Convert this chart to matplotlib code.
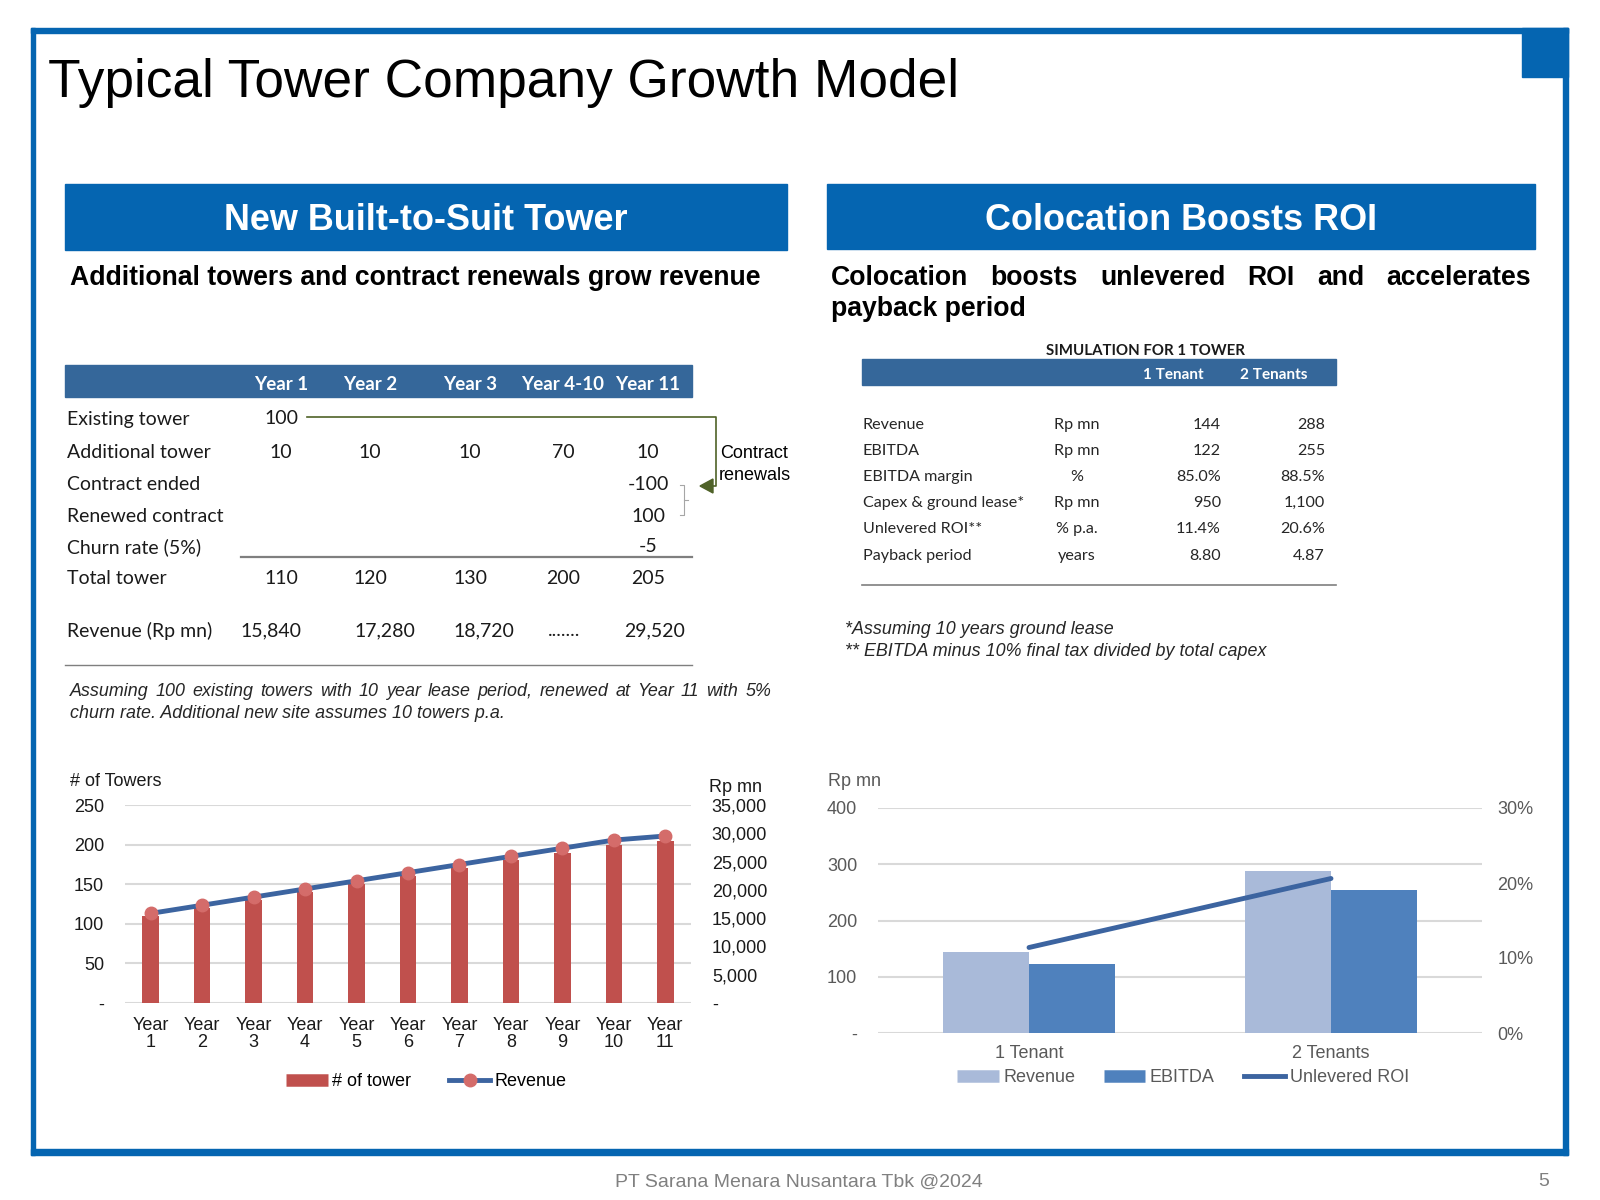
import matplotlib
matplotlib.use('Agg')
import matplotlib.pyplot as plt
from matplotlib.patches import Rectangle, Polygon
from matplotlib.lines import Line2D

# ---- chart data ----
year_labels = ['Year\n1', 'Year\n2', 'Year\n3', 'Year\n4', 'Year\n5', 'Year\n6',
               'Year\n7', 'Year\n8', 'Year\n9', 'Year\n10', 'Year\n11']
towers = [110, 120, 130, 140, 150, 160, 170, 180, 190, 200, 205]
revenue = [15840, 17280, 18720, 20160, 21600, 23040, 24480, 25920, 27360, 28800, 29520]

tenant_labels = ['1 Tenant', '2 Tenants']
sim_revenue = [144, 288]
sim_ebitda = [122, 255]
sim_roi = [11.4, 20.6]

# ---- table data ----
tbl_cols = ['Year 1', 'Year 2', 'Year 3', 'Year 4-10', 'Year 11']
tbl_rows = [
    ('Existing tower', ['100', '', '', '', '']),
    ('Additional tower', ['10', '10', '10', '70', '10']),
    ('Contract ended', ['', '', '', '', '-100']),
    ('Renewed contract', ['', '', '', '', '100']),
    ('Churn rate (5%)', ['', '', '', '', '-5']),
    ('Total tower', ['110', '120', '130', '200', '205']),
]
rev_row = ('Revenue (Rp mn)', ['15,840', '17,280', '18,720', '.......', '29,520'])

sim_cols = ['1 Tenant', '2 Tenants']
sim_rows = [
    ('Revenue', 'Rp mn', '144', '288'),
    ('EBITDA', 'Rp mn', '122', '255'),
    ('EBITDA margin', '%', '85.0%', '88.5%'),
    ('Capex & ground lease*', 'Rp mn', '950', '1,100'),
    ('Unlevered ROI**', '% p.a.', '11.4%', '20.6%'),
    ('Payback period', 'years', '8.80', '4.87'),
]

# ---- style ----
W, H = 1600, 1200
BLUE = '#0565B1'
HEAD = '#35679A'
BAR_RED = '#C0504D'
LINE_BLUE = '#3C64A0'
MARK = '#D46C6A'
REV_LIGHT = '#A9BAD9'
EBITDA_BLUE = '#4F81BD'
GRID = '#D9D9D9'
ARIAL = ['Liberation Sans', 'DejaVu Sans']
CALIBRI = ['Lato', 'DejaVu Sans']
CH = 13  # chart text size

fig = plt.figure(figsize=(16, 12), dpi=100)
bg = fig.add_axes([0, 0, 1, 1])
bg.set_xlim(0, W)
bg.set_ylim(H, 0)
bg.axis('off')


def px_rect(x0, y0, x1, y1):
    return [x0 / W, 1 - y1 / H, (x1 - x0) / W, (y1 - y0) / H]


def justify(words, x0, x1, y, **kw):
    ts = [bg.text(x0, y, w, ha='left', va='center', **kw) for w in words]
    r = fig.canvas.get_renderer()
    ws = [t.get_window_extent(r).width for t in ts]
    gap = (x1 - x0 - sum(ws)) / (len(ws) - 1)
    x = x0
    for t, w in zip(ts, ws):
        t.set_x(x)
        x += w + gap


# frame
bg.add_patch(Rectangle((31, 28), 1537, 5, color=BLUE))
bg.add_patch(Rectangle((31, 28), 4, 1127, color=BLUE))
bg.add_patch(Rectangle((1563, 28), 5, 1127, color=BLUE))
bg.add_patch(Rectangle((31, 1149), 1537, 6, color=BLUE))
bg.add_patch(Rectangle((1522, 28), 46, 49, color=BLUE))

bg.text(48, 83, 'Typical Tower Company Growth Model', fontsize=38.3, family=ARIAL,
        ha='left', va='center', color='black')

# section headers
bg.add_patch(Rectangle((65, 184), 722, 66, color=BLUE))
bg.add_patch(Rectangle((827, 184), 708, 65, color=BLUE))
bg.text(426, 221, 'New Built-to-Suit Tower', fontsize=25.9, weight='bold', family=ARIAL,
        color='white', ha='center', va='center')
bg.text(1181, 221, 'Colocation Boosts ROI', fontsize=25.9, weight='bold', family=ARIAL,
        color='white', ha='center', va='center')

bg.text(70, 278, 'Additional towers and contract renewals grow revenue', fontsize=19.2,
        weight='bold', family=ARIAL, ha='left', va='center')
justify(['Colocation', 'boosts', 'unlevered', 'ROI', 'and', 'accelerates'], 831, 1531, 278,
        fontsize=19.2, weight='bold', family=ARIAL)
bg.text(831, 309, 'payback period', fontsize=19.2, weight='bold', family=ARIAL,
        ha='left', va='center')

# ---- left table ----
col_x = [281, 370, 470, 563, 648]
rev_x = [271, 385, 484, 564, 655]
row_y = [419, 452, 484, 516, 547, 579]
bg.add_patch(Rectangle((65, 365), 627, 32, color=HEAD))
for cx, c in zip(col_x, tbl_cols):
    bg.text(cx, 384, c, fontsize=13.5, weight='bold', family=CALIBRI, color='white',
            ha='center', va='center')
for y, (lab, vals) in zip(row_y, tbl_rows):
    bg.text(67, y, lab, fontsize=14, family=CALIBRI, ha='left', va='center', color='#1a1a1a')
    for cx, v in zip(col_x, vals):
        bg.text(cx, y, v, fontsize=14, family=CALIBRI, ha='center', va='center', color='#1a1a1a')
bg.text(67, 631, rev_row[0], fontsize=14, family=CALIBRI, ha='left', va='center', color='#1a1a1a')
for cx, v in zip(rev_x, rev_row[1]):
    bg.text(cx, 631, v, fontsize=14, family=CALIBRI, ha='center', va='center', color='#1a1a1a')
bg.plot([241, 692], [557, 557], color='#7F7F7F', lw=1.6)
bg.plot([65, 692], [665, 665], color='#7F7F7F', lw=1.0)

# contract renewal arrow
bg.plot([307, 716, 716, 710], [417, 417, 486, 486], color='#4F6228', lw=1.2)
bg.add_patch(Polygon([[700, 486], [713, 479], [713, 493]], closed=True, color='#4F6228'))
bg.plot([680, 684, 684, 680], [485, 485, 515, 515], color='#A6A6A6', lw=0.8)
bg.plot([684, 688], [500, 500], color='#A6A6A6', lw=0.8)
bg.text(720, 453, 'Contract', fontsize=13, family=ARIAL, ha='left', va='center')
bg.text(719, 475, 'renewals', fontsize=13, family=ARIAL, ha='left', va='center')

justify('Assuming 100 existing towers with 10 year lease period, renewed at Year 11 with 5%'.split(),
        70, 771, 692, fontsize=12.9, style='italic', family=ARIAL, color='#262626')
bg.text(70, 714, 'churn rate. Additional new site assumes 10 towers p.a.', fontsize=12.9,
        style='italic', family=ARIAL, color='#262626', ha='left', va='center')

# ---- right table ----
sim_y = [425, 451, 477, 503, 529, 556]
bg.text(1145, 351, 'SIMULATION FOR 1 TOWER', fontsize=10.8, weight='bold', family=CALIBRI,
        ha='center', va='center', color='#1a1a1a')
bg.add_patch(Rectangle((862, 359), 474, 26, color=HEAD))
bg.text(1173, 375, sim_cols[0], fontsize=11, weight='bold', family=CALIBRI, color='white',
        ha='center', va='center')
bg.text(1274, 375, sim_cols[1], fontsize=11, weight='bold', family=CALIBRI, color='white',
        ha='center', va='center')
for y, (lab, unit, v1, v2) in zip(sim_y, sim_rows):
    bg.text(863, y, lab, fontsize=11.6, family=CALIBRI, ha='left', va='center', color='#262626')
    bg.text(1077, y, unit, fontsize=11.6, family=CALIBRI, ha='center', va='center', color='#262626')
    bg.text(1221, y, v1, fontsize=11.6, family=CALIBRI, ha='right', va='center', color='#262626')
    bg.text(1325, y, v2, fontsize=11.6, family=CALIBRI, ha='right', va='center', color='#262626')
bg.plot([862, 1336], [585, 585], color='#7F7F7F', lw=1.2)

bg.text(845, 630, '*Assuming 10 years ground lease', fontsize=12.9, style='italic',
        family=ARIAL, ha='left', va='center', color='#262626')
bg.text(845, 651, '** EBITDA minus 10% final tax divided by total capex', fontsize=12.9,
        style='italic', family=ARIAL, ha='left', va='center', color='#262626')

# ---- left chart ----
ax1 = fig.add_axes(px_rect(125, 805, 691, 1003))
ax1.set_facecolor('none')
x = list(range(len(towers)))
ax1.bar(x, towers, width=0.32, color=BAR_RED, zorder=2)
ax1.set_xlim(-0.5, 10.5)
ax1.set_ylim(0, 250)
ax1.set_yticks([0, 50, 100, 150, 200, 250])
ax1.set_yticklabels(['-', '50', '100', '150', '200', '250'])
ax1.set_xticks(x)
ax1.set_xticklabels(year_labels, linespacing=1.0)
ax1.yaxis.grid(True, color=GRID, lw=1.5)
ax1.set_axisbelow(True)
for s in ax1.spines.values():
    s.set_visible(False)
ax1.tick_params(length=0, labelsize=CH, labelcolor='#1a1a1a')
ax1.tick_params(axis='y', pad=15)
ax1.tick_params(axis='x', pad=10)
for t in ax1.get_xticklabels() + ax1.get_yticklabels():
    t.set_family(ARIAL)

ax2 = ax1.twinx()
ax2.plot(x, revenue, color=LINE_BLUE, lw=3.5, marker='o', ms=9, mfc=MARK, mec=MARK, zorder=3)
ax2.set_ylim(0, 35000)
ax2.set_yticks([0, 5000, 10000, 15000, 20000, 25000, 30000, 35000])
ax2.set_yticklabels(['-', '5,000', '10,000', '15,000', '20,000', '25,000', '30,000', '35,000'])
for s in ax2.spines.values():
    s.set_visible(False)
ax2.tick_params(length=0, labelsize=CH, labelcolor='#1a1a1a', pad=15)
for t in ax2.get_yticklabels():
    t.set_family(ARIAL)

bg.text(70, 781, '# of Towers', fontsize=CH, family=ARIAL, ha='left', va='center', color='#1a1a1a')
bg.text(709, 788, 'Rp mn', fontsize=CH, family=ARIAL, ha='left', va='center', color='#1a1a1a')

h1 = [Line2D([], [], color=BAR_RED, lw=9, solid_capstyle='butt'),
      Line2D([], [], color=LINE_BLUE, lw=3.5, marker='o', ms=9, mfc=MARK, mec=MARK)]
fig.legend(h1, ['# of tower', 'Revenue'], loc='center left',
           bbox_to_anchor=(286 / W, 1 - 1082 / H), bbox_transform=fig.transFigure,
           ncol=2, frameon=False, borderpad=0, borderaxespad=0, handlelength=2.3,
           handletextpad=0.25, columnspacing=2.1,
           prop={'family': ARIAL, 'size': CH})

# ---- right chart ----
GREY_TXT = '#595959'
ax3 = fig.add_axes(px_rect(878, 808, 1482, 1033))
ax3.set_facecolor('none')
xt = list(range(len(tenant_labels)))
bw = 0.285
ax3.bar([i - bw / 2 for i in xt], sim_revenue, bw, color=REV_LIGHT, zorder=2)
ax3.bar([i + bw / 2 for i in xt], sim_ebitda, bw, color=EBITDA_BLUE, zorder=2)
ax3.set_xlim(-0.5, 1.5)
ax3.set_ylim(0, 400)
ax3.set_yticks([0, 100, 200, 300, 400])
ax3.set_yticklabels(['-', '100', '200', '300', '400'])
ax3.set_xticks(xt)
ax3.set_xticklabels(tenant_labels)
ax3.yaxis.grid(True, color=GRID, lw=1.5)
ax3.set_axisbelow(True)
for s in ax3.spines.values():
    s.set_visible(False)
ax3.tick_params(length=0, labelsize=CH, labelcolor=GREY_TXT)
ax3.tick_params(axis='y', pad=15)
ax3.tick_params(axis='x', pad=9)
for t in ax3.get_xticklabels() + ax3.get_yticklabels():
    t.set_family(ARIAL)

ax4 = ax3.twinx()
ax4.plot(xt, sim_roi, color=LINE_BLUE, lw=3.5, solid_capstyle='round')
ax4.set_ylim(0, 30)
ax4.set_yticks([0, 10, 20, 30])
ax4.set_yticklabels(['0%', '10%', '20%', '30%'])
for s in ax4.spines.values():
    s.set_visible(False)
ax4.tick_params(length=0, labelsize=CH, labelcolor=GREY_TXT, pad=11)
for t in ax4.get_yticklabels():
    t.set_family(ARIAL)

bg.text(828, 782, 'Rp mn', fontsize=CH, family=ARIAL, ha='left', va='center', color=GREY_TXT)

h2 = [Line2D([], [], color=REV_LIGHT, lw=9, solid_capstyle='butt'),
      Line2D([], [], color=EBITDA_BLUE, lw=9, solid_capstyle='butt'),
      Line2D([], [], color=LINE_BLUE, lw=3.5)]
leg2 = fig.legend(h2, ['Revenue', 'EBITDA', 'Unlevered ROI'], loc='center left',
                  bbox_to_anchor=(957 / W, 1 - 1078 / H), bbox_transform=fig.transFigure,
                  ncol=3, frameon=False, borderpad=0, borderaxespad=0, handlelength=2.3,
                  handletextpad=0.25, columnspacing=1.6,
                  prop={'family': ARIAL, 'size': CH})
for t in leg2.get_texts():
    t.set_color(GREY_TXT)

# footer
bg.text(799, 1182, 'PT Sarana Menara Nusantara Tbk @2024', fontsize=14, family=ARIAL,
        ha='center', va='center', color='#808080')
bg.text(1544, 1182, '5', fontsize=14, family=ARIAL, ha='center', va='center', color='#808080')

fig.savefig('out.png', dpi=100)
